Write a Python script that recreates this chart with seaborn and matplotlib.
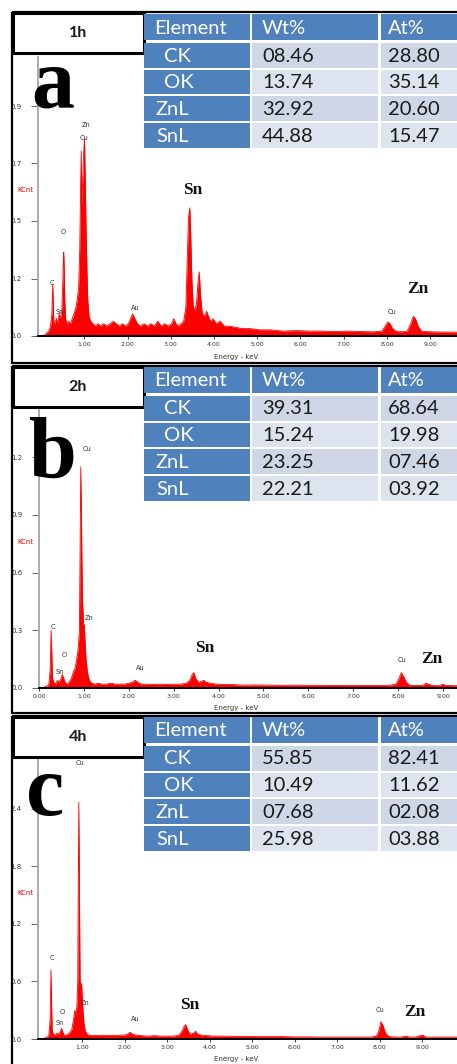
import pandas as pd
import matplotlib
matplotlib.use("Agg")
import matplotlib.pyplot as plt
from matplotlib.patches import Rectangle
import seaborn as sns

# EDS spectra: (energy keV, counts KCnt)
spec_1h = [(0.05, 0.00), (0.12, 0.01), (0.18, 0.02), (0.22, 0.04), (0.25, 0.09), (0.27, 0.21),
           (0.285, 0.12), (0.30, 0.04), (0.33, 0.06), (0.36, 0.07), (0.39, 0.05), (0.42, 0.09),
           (0.45, 0.07), (0.48, 0.10), (0.50, 0.20), (0.515, 0.30), (0.525, 0.34), (0.535, 0.28),
           (0.55, 0.14), (0.57, 0.07), (0.60, 0.05), (0.64, 0.06), (0.68, 0.05), (0.72, 0.07),
           (0.76, 0.09), (0.80, 0.11), (0.84, 0.15), (0.87, 0.20), (0.895, 0.35), (0.915, 0.60),
           (0.93, 0.75), (0.945, 0.52), (0.96, 0.62), (0.985, 0.74), (1.005, 0.80), (1.02, 0.66),
           (1.04, 0.45), (1.06, 0.28), (1.08, 0.15), (1.11, 0.08), (1.15, 0.06), (1.20, 0.05),
           (1.26, 0.04), (1.32, 0.05), (1.38, 0.04), (1.45, 0.05), (1.52, 0.04), (1.60, 0.05),
           (1.67, 0.06), (1.74, 0.05), (1.81, 0.04), (1.88, 0.05), (1.95, 0.04), (2.02, 0.05),
           (2.07, 0.07), (2.12, 0.09), (2.17, 0.07), (2.23, 0.05), (2.30, 0.04), (2.38, 0.05),
           (2.46, 0.04), (2.54, 0.05), (2.62, 0.04), (2.70, 0.06), (2.78, 0.04), (2.86, 0.05),
           (2.94, 0.04), (3.02, 0.05), (3.07, 0.07), (3.12, 0.05), (3.18, 0.04), (3.24, 0.05),
           (3.30, 0.06), (3.35, 0.12), (3.38, 0.30), (3.41, 0.48), (3.44, 0.52), (3.46, 0.42),
           (3.49, 0.22), (3.52, 0.12), (3.56, 0.10), (3.60, 0.14), (3.63, 0.22), (3.66, 0.26),
           (3.69, 0.16), (3.73, 0.09), (3.78, 0.08), (3.83, 0.10), (3.87, 0.08), (3.92, 0.06),
           (3.98, 0.07), (4.05, 0.05), (4.14, 0.06), (4.24, 0.04), (4.36, 0.04), (4.50, 0.035),
           (4.66, 0.03), (4.84, 0.03), (5.05, 0.025), (5.30, 0.025), (5.60, 0.02), (5.90, 0.022),
           (6.20, 0.02), (6.50, 0.02), (6.80, 0.018), (7.10, 0.02), (7.40, 0.018), (7.70, 0.017),
           (7.88, 0.02), (7.96, 0.04), (8.02, 0.057), (8.07, 0.05), (8.13, 0.03), (8.22, 0.018),
           (8.35, 0.017), (8.47, 0.02), (8.55, 0.05), (8.61, 0.08), (8.66, 0.07), (8.72, 0.04),
           (8.80, 0.02), (8.92, 0.018), (9.05, 0.017), (9.25, 0.016), (9.50, 0.016), (9.75, 0.015),
           (10.0, 0.015)]

spec_2h = [(0.05, 0.0), (0.12, 0.005), (0.18, 0.01), (0.22, 0.02), (0.25, 0.10), (0.27, 0.30),
           (0.285, 0.18), (0.30, 0.05), (0.33, 0.03), (0.37, 0.02), (0.41, 0.04), (0.45, 0.03),
           (0.49, 0.05), (0.52, 0.07), (0.55, 0.05), (0.58, 0.03), (0.62, 0.02), (0.67, 0.03),
           (0.72, 0.05), (0.76, 0.08), (0.80, 0.10), (0.84, 0.15), (0.87, 0.20), (0.90, 0.30),
           (0.915, 0.72), (0.93, 1.15), (0.945, 0.90), (0.955, 0.68), (0.97, 0.45), (0.99, 0.34),
           (1.01, 0.32), (1.03, 0.22), (1.05, 0.14), (1.08, 0.08), (1.12, 0.04), (1.17, 0.025),
           (1.24, 0.02), (1.32, 0.025), (1.40, 0.02), (1.50, 0.02), (1.60, 0.025), (1.70, 0.02),
           (1.80, 0.02), (1.90, 0.02), (2.00, 0.025), (2.08, 0.03), (2.14, 0.04), (2.20, 0.03),
           (2.28, 0.02), (2.40, 0.02), (2.55, 0.018), (2.70, 0.02), (2.85, 0.018), (3.00, 0.02),
           (3.15, 0.02), (3.28, 0.025), (3.36, 0.04), (3.41, 0.07), (3.45, 0.08), (3.49, 0.05),
           (3.55, 0.03), (3.62, 0.035), (3.67, 0.04), (3.72, 0.03), (3.82, 0.025), (3.95, 0.02),
           (4.10, 0.018), (4.30, 0.018), (4.55, 0.015), (4.80, 0.016), (5.10, 0.015), (5.40, 0.014),
           (5.70, 0.015), (6.00, 0.014), (6.30, 0.014), (6.60, 0.013), (6.90, 0.014), (7.20, 0.013),
           (7.50, 0.013), (7.80, 0.014), (7.95, 0.02), (8.02, 0.05), (8.07, 0.08), (8.12, 0.06),
           (8.18, 0.03), (8.26, 0.014), (8.40, 0.013), (8.55, 0.014), (8.62, 0.025), (8.67, 0.02),
           (8.75, 0.013), (8.90, 0.012), (9.00, 0.02), (9.05, 0.013), (9.30, 0.012), (9.60, 0.012),
           (10.0, 0.012)]

spec_4h = [(0.05, 0.0), (0.12, 0.01), (0.18, 0.02), (0.22, 0.04), (0.25, 0.20), (0.27, 0.72),
           (0.285, 0.35), (0.30, 0.08), (0.33, 0.05), (0.37, 0.04), (0.41, 0.06), (0.45, 0.05),
           (0.49, 0.08), (0.52, 0.11), (0.55, 0.07), (0.58, 0.04), (0.62, 0.04), (0.67, 0.05),
           (0.72, 0.07), (0.76, 0.10), (0.80, 0.20), (0.83, 0.30), (0.86, 0.25), (0.88, 0.35),
           (0.90, 0.60), (0.91, 1.48), (0.925, 2.47), (0.94, 1.50), (0.955, 0.62), (0.97, 0.45),
           (0.99, 0.58), (1.01, 0.40), (1.03, 0.25), (1.05, 0.15), (1.08, 0.08), (1.12, 0.05),
           (1.17, 0.04), (1.24, 0.035), (1.32, 0.04), (1.40, 0.035), (1.50, 0.04), (1.60, 0.035),
           (1.70, 0.04), (1.80, 0.035), (1.90, 0.04), (2.00, 0.04), (2.07, 0.05), (2.13, 0.07),
           (2.19, 0.05), (2.27, 0.04), (2.40, 0.035), (2.55, 0.03), (2.70, 0.035), (2.85, 0.03),
           (3.00, 0.03), (3.15, 0.03), (3.28, 0.04), (3.35, 0.08), (3.40, 0.13), (3.44, 0.15),
           (3.48, 0.10), (3.54, 0.05), (3.62, 0.06), (3.67, 0.08), (3.72, 0.05), (3.82, 0.04),
           (3.95, 0.035), (4.10, 0.03), (4.30, 0.03), (4.55, 0.028), (4.80, 0.028), (5.10, 0.025),
           (5.40, 0.025), (5.70, 0.025), (6.00, 0.022), (6.30, 0.022), (6.60, 0.02), (6.90, 0.02),
           (7.20, 0.02), (7.50, 0.02), (7.80, 0.02), (7.92, 0.03), (7.98, 0.08), (8.03, 0.18),
           (8.08, 0.14), (8.14, 0.06), (8.22, 0.025), (8.35, 0.02), (8.50, 0.02), (8.62, 0.03),
           (8.70, 0.02), (8.85, 0.02), (8.95, 0.035), (9.02, 0.04), (9.08, 0.02), (9.30, 0.02),
           (9.60, 0.02), (10.0, 0.02)]

# composition tables
elements = ["CK", "OK", "ZnL", "SnL"]
wt_1h = ["08.46", "13.74", "32.92", "44.88"]
at_1h = ["28.80", "35.14", "20.60", "15.47"]
wt_2h = ["39.31", "15.24", "23.25", "22.21"]
at_2h = ["68.64", "19.98", "07.46", "03.92"]
wt_4h = ["55.85", "10.49", "07.68", "25.98"]
at_4h = ["82.41", "11.62", "02.08", "03.88"]

# axis ticks
xticks = [1, 2, 3, 4, 5, 6, 7, 8, 9]
yticks_1h = [0.0, 0.233, 0.467, 0.700, 0.933]
ylabels_1h = ["0.0", "0.2", "0.5", "0.7", "0.9"]
yticks_2h = [0.0, 0.3, 0.6, 0.9, 1.2]
ylabels_2h = ["0.0", "0.3", "0.6", "0.9", "1.2"]
yticks_4h = [0.0, 0.6, 1.2, 1.8, 2.4]
ylabels_4h = ["0.0", "0.6", "1.2", "1.8", "2.4"]

sns.set_theme(style="white")
plt.rcParams["font.family"] = ["DejaVu Sans"]

W, H = 457, 1064
fig = plt.figure(figsize=(W / 100, H / 100), dpi=100)
fig.patch.set_facecolor("white")

BLUE = "#4F81BD"
CELL = ["#CFD7E7", "#DDE3EF"]


def px_axes(left, top, right, bottom):
    return fig.add_axes([left / W, 1 - bottom / H, (right - left) / W, (bottom - top) / H])


def spectrum(box, spec, xlim, ylim, yt, yl, show_zero=False):
    ax = px_axes(*box)
    df = pd.DataFrame(spec, columns=["energy", "kcnt"])
    sns.lineplot(data=df, x="energy", y="kcnt", ax=ax, color="red", lw=0.6)
    ax.fill_between(df["energy"], df["kcnt"], color="red", lw=0)
    ax.set_xlim(*xlim)
    ax.set_ylim(*ylim)
    xt = ([0] if show_zero else []) + xticks
    ax.set_xticks(xt)
    ax.set_xticklabels([f"{v:.2f}" for v in xt])
    ax.set_yticks(yt)
    ax.set_yticklabels(yl)
    ax.set_xlabel("")
    ax.set_ylabel("")
    ax.tick_params(axis="x", direction="out", length=2, width=0.6, pad=2,
                   labelsize=4.5, labelcolor="#333333", bottom=True)
    ax.tick_params(axis="y", direction="out", length=5, width=0.7, pad=7,
                   labelsize=5, labelcolor="#333333", left=True, color="#666666")
    for s in ["top", "right"]:
        ax.spines[s].set_visible(False)
    ax.spines["left"].set_color("#aaaaaa")
    ax.spines["left"].set_linewidth(1.4)
    ax.spines["bottom"].set_color("black")
    ax.spines["bottom"].set_linewidth(1.4)
    ax.patch.set_alpha(0)
    return ax


# spectra
spectrum((38, 57, 457, 336), spec_1h, (-0.07, 9.62), (0, 1.132), yticks_1h, ylabels_1h)
spectrum((39, 410, 457, 688), spec_2h, (0.02, 9.31), (0, 1.446), yticks_2h, ylabels_2h, show_zero=True)
spectrum((38, 760, 457, 1039), spec_4h, (-0.035, 9.82), (0, 2.91), yticks_4h, ylabels_4h)

# overlay in pixel coordinates for frames, tables and labels
ov = fig.add_axes([0, 0, 1, 1])
ov.set_xlim(0, W)
ov.set_ylim(H, 0)
ov.axis("off")

FS = 14.5


def table(top, wt, at):
    cols = [(144, 250), (252, 378), (381, 470)]
    heads = ["Element", "Wt%", "At%"]
    tx = [154, 262, 388]
    for (x0, x1), h, x in zip(cols, heads, tx):
        ov.add_patch(Rectangle((x0, top), x1 - x0, 26, color=BLUE, lw=0))
        ov.text(x, top + 14, h, color="white", fontsize=FS, family="Lato",
                va="center", ha="left")
    for i, el in enumerate(elements):
        y0 = top + 29 + i * 26.7
        ov.add_patch(Rectangle((144, y0), 106, 24.5, color=BLUE, lw=0))
        ov.add_patch(Rectangle((252, y0), 126, 24.5, color=CELL[i % 2], lw=0))
        ov.add_patch(Rectangle((381, y0), 89, 24.5, color=CELL[i % 2], lw=0))
        ov.text(164 if len(el) == 2 else 156, y0 + 13, el, color="white", fontsize=FS,
                family="Lato", va="center")
        ov.text(262, y0 + 13, wt[i], color="#1a1a1a", fontsize=FS, family="Lato", va="center")
        ov.text(388, y0 + 13, at[i], color="#1a1a1a", fontsize=FS, family="Lato", va="center")


def frame(top, bottom, label, letter, letter_x, letter_base):
    ov.add_patch(Rectangle((12, top), 470, bottom - top, fill=False, ec="black", lw=1.6))
    ov.add_patch(Rectangle((13, top + 1), 131, 40, fc="white", ec="black", lw=2.2))
    ov.text(78, top + 21, label, fontsize=11.5, weight="bold", family="Lato",
            color="#1a1a1a", ha="center", va="center")
    ov.text(letter_x, letter_base, letter, fontsize=62, weight="bold",
            family="Liberation Serif", ha="center", va="baseline", color="black")


def small(x, y, s):
    ov.text(x, y, s, fontsize=4.8, color="#333333", ha="center", va="center")


def big(x, y, s):
    ov.text(x, y, s, fontsize=12.5, weight="bold", family="Liberation Serif",
            ha="center", va="center", color="#111111")


frame(12, 363, "1h", "a", 53, 108)
frame(366, 713, "2h", "b", 53, 477)
frame(716, 1075, "4h", "c", 45, 815)

table(14, wt_1h, at_1h)
table(367, wt_2h, at_2h)
table(717, wt_4h, at_4h)

# panel a annotations
for x, y, s in [(86, 125, "Zn"), (84, 138, "Cu"), (63, 232, "O"), (52, 283, "C"),
                (60, 312, "Sn"), (135, 308, "Au"), (392, 312, "Cu")]:
    small(x, y, s)
big(193, 190, "Sn")
big(418, 289, "Zn")
ov.text(25, 190, "KCnt", fontsize=5, color="red", ha="center", va="center")
ov.text(236, 357, "Energy - keV", fontsize=5, color="#333333", ha="center", va="center")

# panel b annotations
for x, y, s in [(87, 449, "Cu"), (53, 627, "C"), (64, 655, "O"), (60, 672, "Sn"),
                (89, 618, "Zn"), (140, 668, "Au"), (402, 660, "Cu")]:
    small(x, y, s)
big(205, 648, "Sn")
big(432, 659, "Zn")
ov.text(25, 542, "KCnt", fontsize=5, color="red", ha="center", va="center")
ov.text(236, 708, "Energy - keV", fontsize=5, color="#333333", ha="center", va="center")

# panel c annotations
for x, y, s in [(80, 763, "Cu"), (52, 958, "C"), (62, 1012, "O"), (60, 1023, "Sn"),
                (85, 1003, "Zn"), (135, 1019, "Au"), (380, 1010, "Cu")]:
    small(x, y, s)
big(190, 1005, "Sn")
big(415, 1012, "Zn")
ov.text(25, 893, "KCnt", fontsize=5, color="red", ha="center", va="center")
ov.text(236, 1059, "Energy - keV", fontsize=5, color="#333333", ha="center", va="center")

fig.savefig("out.png", dpi=100)
